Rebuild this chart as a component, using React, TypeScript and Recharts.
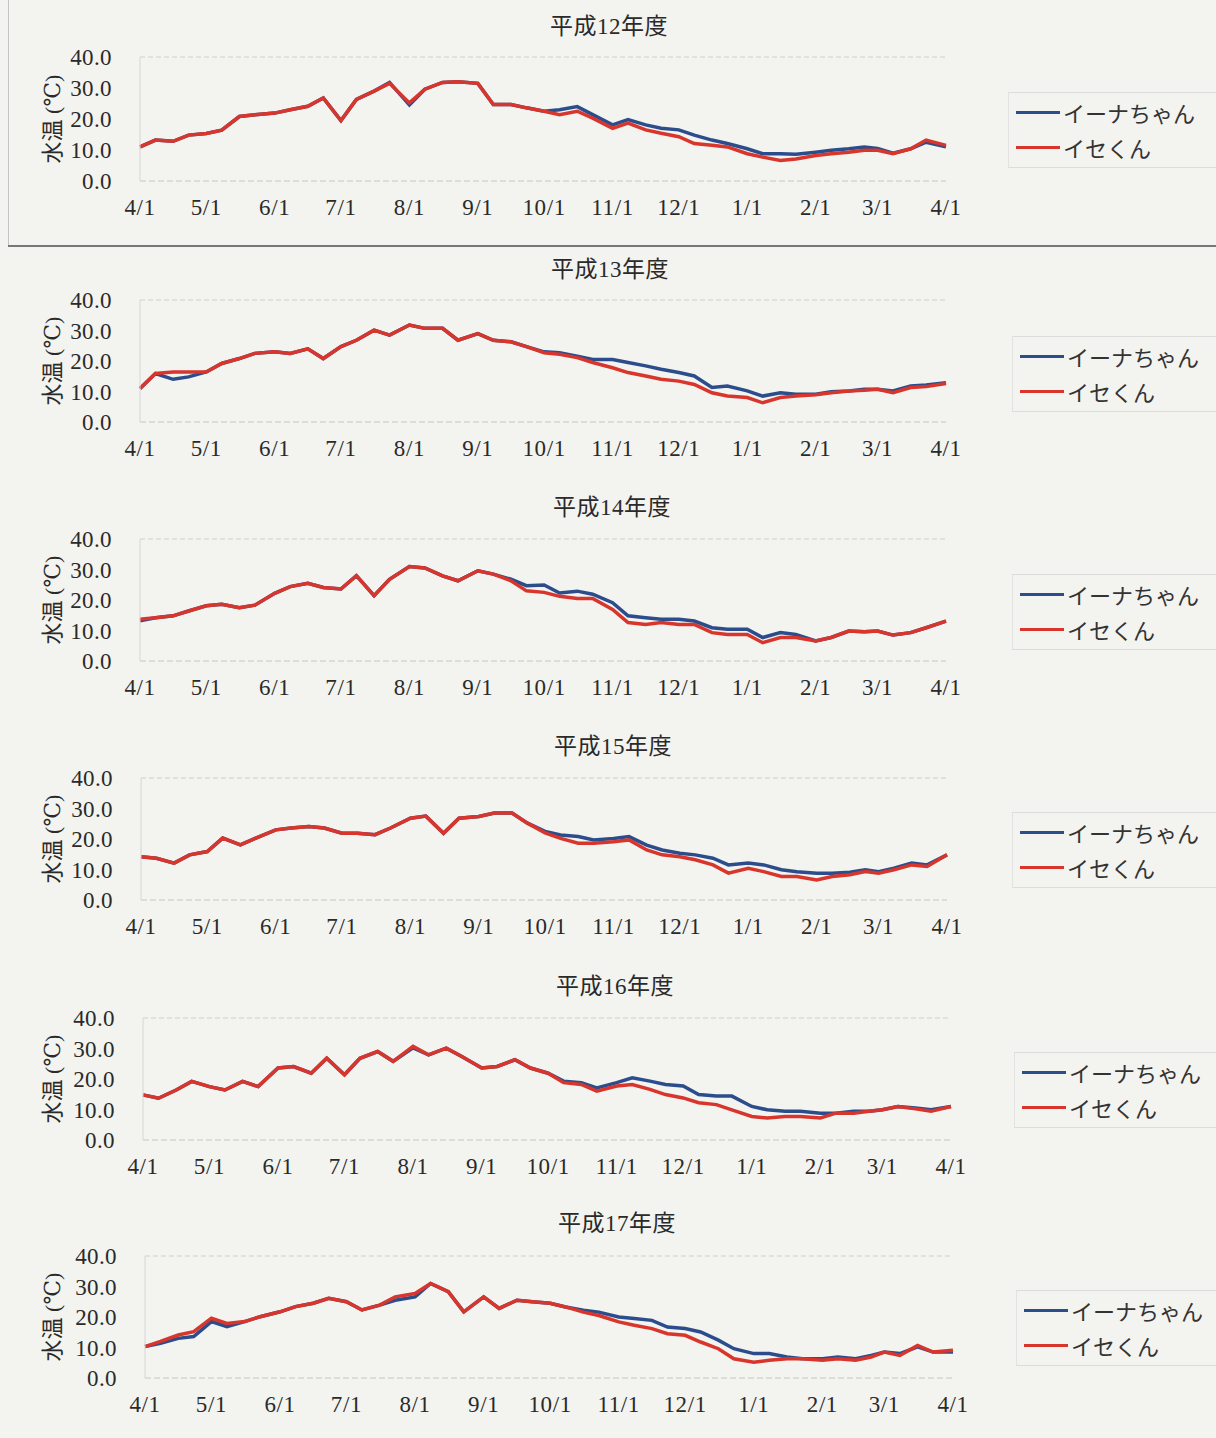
import React from 'react';
import { LineChart, Line, XAxis, YAxis, ReferenceLine } from 'recharts';

// sample days counted from 4/1 (1st, 8th, 16th, 23rd of each month)
const DAYS = [0, 7, 15, 22, 30, 37, 45, 52, 61, 68, 76, 83, 91, 98, 106, 113, 122, 129, 137, 144, 153, 160, 168, 175,
  183, 190, 198, 205, 214, 221, 229, 236, 244, 251, 259, 266, 275, 282, 290, 297, 306, 313, 321, 328, 334, 341, 349, 356, 365];
const MONTH_TICKS = [0, 30, 61, 91, 122, 153, 183, 214, 244, 275, 306, 334, 365];
const MONTH_LABELS = ['4/1', '5/1', '6/1', '7/1', '8/1', '9/1', '10/1', '11/1', '12/1', '1/1', '2/1', '3/1', '4/1'];
const Y_TICKS = [0, 10, 20, 30, 40];
const SERIES_NAMES = ['イーナちゃん', 'イセくん'];
const YEAR_TITLES = ['平成12年度', '平成13年度', '平成14年度', '平成15年度', '平成16年度', '平成17年度'];

const ina12 = [11.0, 13.2, 12.8, 14.8, 15.3, 16.4, 20.8, 21.4, 21.9, 23.0, 24.1, 26.8, 19.5, 26.3, 29.0, 31.8, 24.5, 29.6, 31.8, 32.0, 31.5, 24.7, 24.7, 23.6,
  22.5, 23.0, 24.0, 21.4, 18.1, 19.8, 18.1, 17.0, 16.5, 14.8, 13.2, 12.1, 10.4, 8.8, 8.8, 8.6, 9.3, 9.9, 10.4, 11.0, 10.5, 9.0, 10.4, 12.5, 11.0];
const ise12 = [11.0, 13.2, 12.8, 14.8, 15.3, 16.4, 20.8, 21.4, 21.9, 23.0, 24.1, 26.8, 19.5, 26.3, 29.0, 31.5, 25.2, 29.6, 31.8, 32.0, 31.5, 24.7, 24.7, 23.6,
  22.5, 21.4, 22.5, 20.3, 17.0, 18.7, 16.5, 15.4, 14.3, 12.1, 11.5, 11.0, 8.8, 7.7, 6.6, 7.1, 8.2, 8.8, 9.3, 9.9, 9.9, 8.8, 10.4, 13.2, 11.5];

const ina13 = [11.0, 15.9, 14.0, 14.8, 16.4, 19.2, 20.8, 22.5, 23.0, 22.5, 24.0, 20.8, 24.7, 26.8, 30.1, 28.5, 31.8, 30.7, 30.7, 26.8, 29.0, 26.8, 26.3, 24.7,
  23.0, 22.7, 21.6, 20.5, 20.5, 19.5, 18.4, 17.3, 16.2, 15.1, 11.3, 11.8, 10.2, 8.5, 9.6, 9.1, 9.1, 9.9, 10.2, 10.7, 10.7, 10.2, 11.8, 12.1, 12.9];
const ise13 = [11.0, 15.9, 16.4, 16.4, 16.4, 19.2, 20.8, 22.5, 23.0, 22.5, 24.0, 20.8, 24.7, 26.8, 30.1, 28.5, 31.8, 30.7, 30.7, 26.8, 29.0, 26.8, 26.3, 24.7,
  22.7, 22.2, 21.1, 19.5, 17.8, 16.2, 15.1, 14.0, 13.4, 12.3, 9.6, 8.5, 8.0, 6.3, 8.0, 8.5, 8.9, 9.6, 10.2, 10.4, 10.7, 9.6, 11.3, 11.6, 12.6];

const ina14 = [13.2, 14.2, 14.8, 16.4, 18.1, 18.6, 17.5, 18.3, 22.2, 24.4, 25.5, 24.1, 23.6, 28.0, 21.4, 26.8, 31.0, 30.5, 27.9, 26.3, 29.6, 28.5, 26.8, 24.7,
  24.9, 22.3, 22.9, 21.9, 19.1, 14.8, 14.2, 13.7, 13.7, 13.1, 10.9, 10.4, 10.4, 7.7, 9.3, 8.7, 6.6, 7.7, 9.8, 9.6, 9.8, 8.5, 9.3, 10.9, 13.1];
const ise14 = [13.7, 14.2, 14.8, 16.4, 18.1, 18.6, 17.5, 18.3, 22.2, 24.4, 25.5, 24.1, 23.6, 28.0, 21.4, 26.8, 31.0, 30.5, 27.9, 26.3, 29.6, 28.5, 26.3, 23.0,
  22.5, 21.2, 20.5, 20.5, 16.9, 12.6, 12.0, 12.6, 12.0, 12.0, 9.3, 8.7, 8.7, 6.0, 7.7, 7.7, 6.6, 7.7, 9.8, 9.6, 9.8, 8.5, 9.3, 10.9, 13.1];

const ina15 = [14.2, 13.7, 12.1, 14.8, 15.9, 20.3, 18.1, 20.3, 23.0, 23.6, 24.1, 23.6, 21.9, 21.9, 21.4, 23.6, 26.8, 27.5, 21.9, 26.8, 27.4, 28.5, 28.5, 25.2,
  22.5, 21.3, 20.8, 19.7, 20.2, 20.8, 18.0, 16.4, 15.3, 14.8, 13.7, 11.5, 12.1, 11.5, 9.9, 9.3, 8.8, 8.8, 9.1, 9.9, 9.3, 10.4, 12.1, 11.5, 14.8];
const ise15 = [14.2, 13.7, 12.1, 14.8, 15.9, 20.3, 18.1, 20.3, 23.0, 23.6, 24.1, 23.6, 21.9, 21.9, 21.4, 23.6, 26.8, 27.5, 21.9, 26.8, 27.4, 28.5, 28.5, 25.2,
  22.0, 20.2, 18.6, 18.6, 19.1, 19.7, 16.4, 14.8, 14.2, 13.2, 11.5, 8.8, 10.4, 9.3, 7.7, 7.7, 6.6, 7.7, 8.3, 9.3, 8.8, 9.9, 11.5, 11.0, 14.8];

const ina16 = [14.8, 13.7, 16.4, 19.2, 17.5, 16.4, 19.2, 17.5, 23.6, 24.1, 21.9, 26.8, 21.4, 26.8, 29.0, 25.8, 30.2, 27.9, 30.1, 27.4, 23.6, 24.1, 26.3, 23.6,
  21.9, 19.3, 18.8, 17.1, 18.8, 20.4, 19.3, 18.2, 17.7, 14.9, 14.4, 14.4, 11.0, 9.9, 9.4, 9.4, 8.8, 8.8, 9.4, 9.4, 9.9, 11.0, 10.5, 9.9, 11.0];
const ise16 = [14.8, 13.7, 16.4, 19.2, 17.5, 16.4, 19.2, 17.5, 23.6, 24.1, 21.9, 26.8, 21.4, 26.8, 29.0, 25.8, 30.7, 27.9, 30.1, 27.4, 23.6, 24.1, 26.3, 23.6,
  21.9, 18.8, 18.2, 16.0, 17.7, 18.2, 16.6, 14.9, 13.8, 12.2, 11.6, 9.9, 7.7, 7.2, 7.7, 7.7, 7.2, 8.8, 8.8, 9.4, 9.9, 11.0, 10.2, 9.4, 11.0];

const ina17 = [10.3, 11.4, 13.0, 13.6, 18.5, 16.8, 18.5, 20.1, 21.7, 23.4, 24.5, 26.1, 25.0, 22.3, 23.9, 25.5, 26.6, 31.0, 28.3, 21.7, 26.6, 22.8, 25.5, 25.0,
  24.5, 23.3, 22.2, 21.6, 20.0, 19.5, 18.9, 16.7, 16.2, 15.1, 12.4, 9.6, 8.0, 8.0, 6.9, 6.3, 6.3, 6.9, 6.3, 7.4, 8.5, 8.0, 10.2, 8.5, 8.5];
const ise17 = [10.3, 12.0, 14.1, 15.2, 19.6, 17.9, 18.5, 20.1, 21.7, 23.4, 24.5, 26.1, 25.0, 22.3, 23.9, 26.6, 27.7, 31.0, 28.3, 21.7, 26.6, 22.8, 25.5, 25.0,
  24.5, 23.3, 21.6, 20.5, 18.4, 17.3, 16.2, 14.5, 14.0, 11.8, 9.6, 6.3, 5.2, 5.8, 6.3, 6.3, 5.8, 6.3, 5.8, 6.9, 8.5, 7.4, 10.7, 8.5, 9.1];

const INA_SERIES = [ina12, ina13, ina14, ina15, ina16, ina17];
const ISE_SERIES = [ise12, ise13, ise14, ise15, ise16, ise17];

// page layout of each panel (pixel positions of y=40 / y=0 and plot edges)
const LAYOUT = [
  { top: 57, bottom: 181, left: 140, right: 946, titleY: 27, titleX: 609, legendX: 1016, legendY: 112 },
  { top: 300, bottom: 422, left: 140, right: 946, titleY: 270, titleX: 610, legendX: 1020, legendY: 356 },
  { top: 539, bottom: 661, left: 140, right: 946, titleY: 508, titleX: 612, legendX: 1020, legendY: 594 },
  { top: 778, bottom: 900, left: 141, right: 947, titleY: 747, titleX: 613, legendX: 1020, legendY: 832 },
  { top: 1018, bottom: 1140, left: 143, right: 951, titleY: 987, titleX: 615, legendX: 1022, legendY: 1072 },
  { top: 1256, bottom: 1378, left: 145, right: 953, titleY: 1224, titleX: 617, legendX: 1024, legendY: 1310 },
];

const BLUE = '#2b4d8c';
const RED = '#d8352c';
const SERIF = '"Liberation Serif", "DejaVu Serif", "Noto Sans CJK JP", serif';
const SANS = '"Noto Sans CJK JP", "Noto Sans", sans-serif';
const PAGE_W = 1216;

const Panel = ({ idx }: { idx: number }) => {
  const p = LAYOUT[idx];
  const ina = INA_SERIES[idx];
  const ise = ISE_SERIES[idx];
  const rows = DAYS.map((d, i) => ({ day: d, ina: ina[i], ise: ise[i] }));
  const plotH = p.bottom - p.top;

  return (
    <>
      <div style={{ position: 'absolute', left: p.titleX - 100, top: p.titleY - 15, width: 200, textAlign: 'center',
        fontFamily: SERIF, fontSize: 23, lineHeight: '30px', color: '#2a2a2a', letterSpacing: 0.5 }}>
        {YEAR_TITLES[idx]}
      </div>
      <div style={{ position: 'absolute', left: 0, top: p.top - 40 }}>
        <LineChart width={PAGE_W} height={plotH + 80} data={rows}
          margin={{ top: 40, right: PAGE_W - p.right, bottom: 0, left: 0 }}>
          <ReferenceLine y={40} stroke="#cfcfcf" strokeDasharray="5 3" />
          <XAxis dataKey="day" type="number" domain={[0, 365]} ticks={MONTH_TICKS} height={40}
            tickFormatter={(v: number) => MONTH_LABELS[MONTH_TICKS.indexOf(v)]}
            interval={0} tickLine={false} tickSize={0} tickMargin={18}
            axisLine={{ stroke: '#c6c6c6', strokeDasharray: '6 3' }}
            tick={{ fill: '#2a2a2a', fontSize: 23, fontFamily: SERIF, letterSpacing: 0.6 }} />
          <YAxis type="number" domain={[0, 40]} ticks={Y_TICKS} width={p.left} interval={0}
            tickFormatter={(v: number) => v.toFixed(1)}
            tickLine={false} tickSize={0} tickMargin={28}
            axisLine={{ stroke: '#d6d6d6' }}
            tick={{ fill: '#2a2a2a', fontSize: 23, fontFamily: SERIF, letterSpacing: 0.4 }}
            label={{ value: '水温 (℃)', angle: -90, position: 'insideLeft', offset: 52,
              style: { textAnchor: 'middle', fontSize: 22, fill: '#2a2a2a', fontFamily: SERIF } }} />
          <Line type="linear" dataKey="ina" stroke={BLUE} strokeWidth={3.5} dot={false} isAnimationActive={false} />
          <Line type="linear" dataKey="ise" stroke={RED} strokeWidth={3.5} dot={false} isAnimationActive={false} />
        </LineChart>
      </div>
      <div style={{ position: 'absolute', left: p.legendX - 8, top: p.legendY - 20, width: PAGE_W - p.legendX + 8, height: 74,
        borderTop: '1px solid #dcdcdc', borderBottom: '1px solid #dcdcdc', borderLeft: '1px solid #e2e2e2' }} />
      {SERIES_NAMES.map((name, i) => (
        <div key={name} style={{ position: 'absolute', left: p.legendX, top: p.legendY + i * 35 - 15, height: 30,
          display: 'flex', alignItems: 'center' }}>
          <span style={{ display: 'inline-block', width: 44, height: 3, background: i === 0 ? BLUE : RED }} />
          <span style={{ marginLeft: 3, fontFamily: SANS, fontSize: 22, color: '#333', whiteSpace: 'nowrap' }}>{name}</span>
        </div>
      ))}
    </>
  );
};

export default function App() {
  return (
    <div style={{ position: 'absolute', left: 0, top: 0, width: PAGE_W, height: 1438, background: '#f3f3ef', overflow: 'hidden' }}>
      <div style={{ position: 'absolute', left: 8, top: 0, width: 1, height: 246, background: '#c4c4c4' }} />
      <div style={{ position: 'absolute', left: 8, top: 245, width: PAGE_W - 8, height: 2, background: '#777' }} />
      {YEAR_TITLES.map((t, i) => <Panel key={t} idx={i} />)}
    </div>
  );
}
